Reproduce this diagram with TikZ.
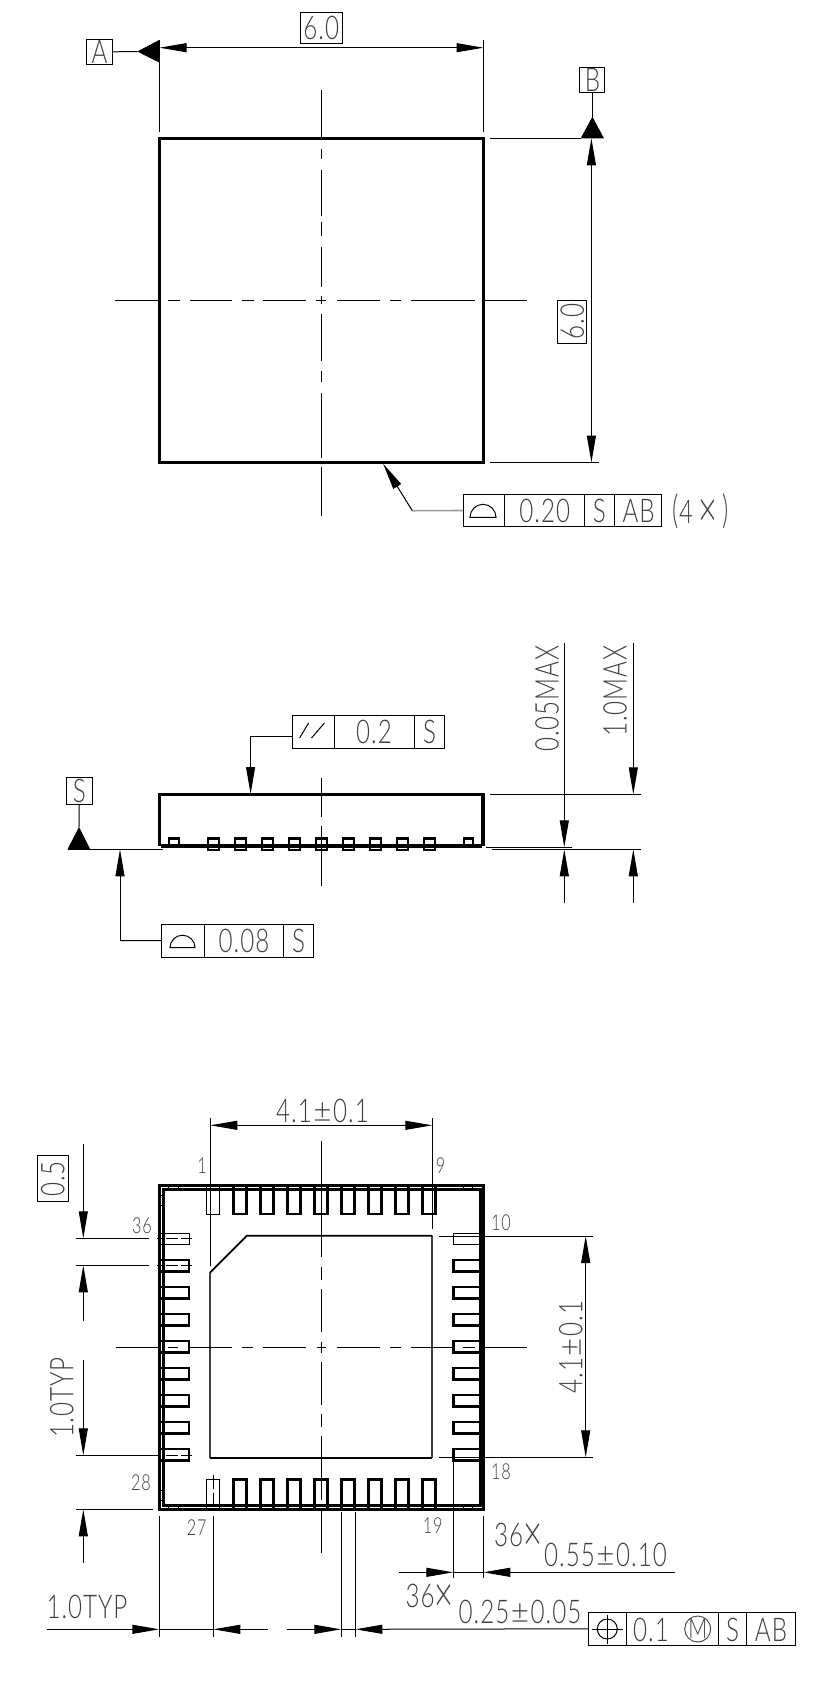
\documentclass[tikz,border=0pt]{standalone}
\usepackage{fontspec}
\usetikzlibrary{arrows.meta}
\newfontfamily\cadfont[FakeStretch=0.74,LetterSpace=3,UprightFont=* Light]{Lato}
\newcommand\plusmark{\kern1.2pt\scalebox{1.3}[1.05]{±}\kern1.2pt}
\newcommand\timesmark{\raisebox{-2.6pt}{\scalebox{1.35}[1.5]{×}}}
\tikzset{
 thinln/.style={line width=0.75pt},
 thickln/.style={line width=2.4pt},
 padln/.style={line width=2.1pt},
 dimhead/.tip={Triangle[length=20.25pt,width=6.75pt]},
 cad/.style={font=\cadfont\fontsize{24.5}{26}\selectfont,text=black!75,inner sep=0pt},
 cadsmall/.style={font=\cadfont\fontsize{16.5}{18}\selectfont,text=black!75,inner sep=0pt},
 framed/.style 2 args={draw,thinln,inner sep=0pt,minimum width=#1*0.75pt,minimum height=#2*0.75pt},
}

\begin{document}
\begin{tikzpicture}[x=0.75pt,y=-0.75pt]
    \useasboundingbox (0,0) rectangle (831,1693);

    % top view
    \draw [thickln] (159.5,138.3) rectangle (483.5,462.5);
    \foreach \a/\b in {89.5/137.3,149.2/159,170/215.8,221.8/235.7,246.7/287.4,296.4/304.3,314.3/361,371/382,392.9/457.5,466.5/516.2}
        \draw [thinln] (321.3,\a) -- (321.3,\b);
    \foreach \a/\b in {115/160,168/180,190/232,242/253.5,263/306,316/326,337/380,390/400.5,411/475,485/527}
        \draw [thinln] (\a,300.4) -- (\b,300.4);
    \draw [thinln] (159.5,39.8) -- (159.5,132);
    \draw [thinln] (483.5,39.8) -- (483.5,132);
    \draw [thinln, dimhead-dimhead] (159.5,47.7) -- (483.5,47.7);
    \node [framed={42}{31}, cad] (topW) at (321.3,28.4) {6.0};
    \node [framed={26}{25.3}, cad] (boxA) at (99.5,52) {A};
    \coordinate (tipA) at (137.3,51.5);
    \draw [thinln] (boxA) -- (tipA);
    \fill (tipA) -- (159.5,39.8) -- (159.5,62.7) -- cycle;
    \node [framed={25}{25}, cad] (boxB) at (592.4,80) {B};
    \coordinate (tipB) at (592.4,116.7);
    \draw [thinln] (boxB) -- (tipB);
    \fill (tipB) -- (580.7,138.3) -- (604,138.3) -- cycle;
    \draw [thinln] (490,138.3) -- (581,138.3);
    \draw [thinln] (490,462.5) -- (598.8,462.5);
    \draw [thinln, dimhead-dimhead] (591.4,138.3) -- (591.4,462.5);
    \node [framed={42.6}{29.4}, cad, rotate=90] (topH) at (572.2,321.7) {6.0};

    \node [framed={198.4}{32.4}] (flatA) at (562.5,510.5) {};
    \draw [thinln] (504.3,494.3) -- (504.3,526.7);
    \draw [thinln] (584.3,494.3) -- (584.3,526.7);
    \draw [thinln] (614.3,494.3) -- (614.3,526.7);
    \draw [thinln] (470,517.3) arc [start angle=180, end angle=360, radius=13] -- cycle;
    \node [cad] (flatAv) at (544.7,510.5) {0.20};
    \node [cad] (flatAs) at (599.3,510.5) {S};
    \node [cad] (flatAd) at (638.7,510.5) {AB};
    \node [cad] (flatAn) at (701,511) {\scalebox{1}[1.2]{(}4\,\timesmark\,\scalebox{1}[1.2]{)}};
    \coordinate (flatAk) at (412.3,510.7);
    \draw [line width=1.2pt, black!40] (flatA.west) -- (flatAk);
    \draw [thinln, -dimhead] (flatAk) -- (383,463.5);

    % side view
    \foreach \x in {213.3,240.3,...,430}
        \draw [line width=1.7pt] (\x-5.5,838.5) rectangle (\x+5.5,849.7);
    \draw [line width=1.7pt] (174-4.8,838.5) rectangle (174+4.8,846);
    \draw [line width=1.7pt] (468.5-4.8,838.5) rectangle (468.5+4.8,846);
    \draw [thickln] (159.5,846) -- (159.5,794.3) -- (483,794.3) -- (483,846);
    \draw [line width=3pt] (161,846.3) -- (482,846.3);
    \foreach \x in {213.3,240.3,...,430}
        \draw [line width=0.6pt, white] (\x-4,848.3) -- (\x+4,848.3);
    \foreach \a/\b in {778/817,826/886}
        \draw [thinln] (321.3,\a) -- (321.3,\b);
    \draw [thinln] (67.5,849.3) -- (163,849.3);
    \draw [thinln] (486,847.3) -- (571.7,847.3);
    \draw [thinln] (492.3,849.3) -- (641,849.3);
    \draw [thinln] (490,794.3) -- (641,794.3);
    \node [framed={26}{27}, cad] (boxS) at (79.4,790.5) {S};
    \coordinate (tipS) at (79,827);
    \draw [thinln] (boxS) -- (tipS);
    \fill (tipS) -- (67.5,849.3) -- (90.3,849.3) -- cycle;

    \node [framed={151.8}{33}] (parl) at (368.6,731.5) {};
    \draw [thinln] (334.4,715) -- (334.4,748);
    \draw [thinln] (414.7,715) -- (414.7,748);
    \draw [thinln] (299.6,738) -- (308.6,723);
    \draw [thinln] (311.5,738) -- (324.4,723);
    \node [cad] (parlv) at (374,732) {0.2};
    \node [cad] (parls) at (429.6,732) {S};
    \coordinate (parlk) at (250.6,736);
    \draw [thinln] (292.7,736) -- (parlk);
    \draw [thinln, -dimhead] (parlk) -- (250.6,794);

    \node [framed={151.8}{33}] (flatB) at (237.6,940.5) {};
    \draw [thinln] (204,924) -- (204,957);
    \draw [thinln] (283.8,924) -- (283.8,957);
    \draw [thinln] (170,947.7) arc [start angle=180, end angle=360, radius=12.5] -- cycle;
    \node [cad] (flatBv) at (244,941) {0.08};
    \node [cad] (flatBs) at (298.6,941) {S};
    \coordinate (flatBk) at (120,940.7);
    \draw [thinln] (flatB.west) -- (flatBk);
    \draw [thinln, -dimhead] (flatBk) -- (120,849.3);

    \draw [thinln, -dimhead] (564.3,643) -- (564.3,847.3);
    \draw [thinln, -dimhead] (564.3,903) -- (564.3,849.3);
    \draw [thinln, -dimhead] (633.3,643) -- (633.3,794.3);
    \draw [thinln, -dimhead] (633.3,903) -- (633.3,849.3);
    \node [cad, rotate=90] (gapmax) at (547,698.5) {0.05MAX};
    \node [cad, rotate=90] (hgtmax) at (615,691) {1.0MAX};

    % bottom view
    \draw [line width=2.2pt] (159.8,1185.7) rectangle (483.3,1509.3);
    \draw [line width=2.2pt] (163.8,1189.8) rectangle (480.3,1505.8);
    \foreach \i in {0,...,8} {
        \pgfmathsetmacro\px{213.3+27*\i}
        \pgfmathsetmacro\py{1238.7+27*\i}
        \ifnum\i=0
            \tikzset{padstyle/.style={thinln}}
        \else
            \tikzset{padstyle/.style={padln}}
        \fi
        \draw [padstyle] (\px-6.5,1186) -- (\px-6.5,1214) -- (\px+6.5,1214) -- (\px+6.5,1186);
        \draw [padstyle] (\px-6.5,1509) -- (\px-6.5,1479.5) -- (\px+6.5,1479.5) -- (\px+6.5,1509);
        \draw [padstyle] (160,\py-5.7) -- (189,\py-5.7) -- (189,\py+5.7) -- (160,\py+5.7);
        \draw [padstyle] (483,\py-5.7) -- (453.7,\py-5.7) -- (453.7,\py+5.7) -- (483,\py+5.7);
    }
    \foreach \x in {168,178,463,472} {
        \draw [thinln] (\x,1186) -- (\x,1190);
        \draw [thinln] (\x,1505) -- (\x,1509);
    }
    \foreach \y in {1195,1205,1490,1500} {
        \draw [thinln] (160,\y) -- (164,\y);
        \draw [thinln] (480,\y) -- (484,\y);
    }
    \draw [line width=1.3pt, black!75] (432.3,1235.7) -- (432.3,1457.7);
    \draw [line width=1.3pt, black!75] (210.3,1457.7) -- (210.3,1272.3);
    \draw [line width=1.3pt] (210.3,1272.3) -- (247,1235.7) -- (432.3,1235.7);
    \draw [line width=1.3pt] (210.3,1457.7) -- (432.3,1457.7);
    \foreach \a/\b in {1141/1257,1266.7/1280,1289/1331.7,1341.7/1353,1361.7/1405,1414/1427,1436/1500,1510.7/1552.7}
        \draw [thinln] (321.3,\a) -- (321.3,\b);
    \foreach \a/\b in {116/160,168/178,190/231.7,241.7/253,263/306,316.7/326,336.7/380,390/400.7,411/452,463/475,485/526.7}
        \draw [thinln] (\a,1347) -- (\b,1347);

    \draw [thinln] (210.3,1118) -- (210.3,1265.7);
    \draw [thinln] (432.3,1118) -- (432.3,1229);
    \draw [thinln, dimhead-dimhead] (210.3,1125.3) -- (432.3,1125.3);
    \node [cad] (padW) at (322.5,1111) {4.1\plusmark0.1};
    \draw [thinln] (439.3,1236) -- (592.7,1236);
    \draw [thinln] (439.3,1457.3) -- (592.7,1457.3);
    \draw [thinln, dimhead-dimhead] (585.7,1236) -- (585.7,1457.3);
    \node [cad, rotate=90] (padH) at (570.7,1347) {4.1\plusmark0.1};

    \node [cadsmall] (pin1) at (202,1166) {1};
    \node [cadsmall] (pin9) at (440.7,1166) {9};
    \node [cadsmall] (pin10) at (501,1223) {10};
    \node [cadsmall] (pin18) at (501,1471.7) {18};
    \node [cadsmall] (pin19) at (432.7,1525.7) {19};
    \node [cadsmall] (pin27) at (196.7,1527.7) {27};
    \node [cadsmall] (pin28) at (141,1482.7) {28};
    \node [cadsmall] (pin36) at (142,1226) {36};

    % pitch dimensions on the left
    \foreach \y in {1238.3,1265.3} {
        \draw [thinln] (76,\y) -- (149,\y);
        \foreach \a/\b in {157/161.5,166/178,181/192}
            \draw [thinln] (\a,\y) -- (\b,\y);
    }
    \draw [thinln] (76,1455.3) -- (160,1455.3);
    \foreach \a/\b in {166/178,181/192}
        \draw [thinln] (\a,1455.3) -- (\b,1455.3);
    \draw [thinln] (76,1509.3) -- (153,1509.3);
    \draw [thinln, -dimhead] (83.3,1144) -- (83.3,1238.3);
    \draw [thinln, -dimhead] (83.3,1320.7) -- (83.3,1265.3);
    \draw [thinln, -dimhead] (83.3,1360) -- (83.3,1455.3);
    \draw [thinln, -dimhead] (83.3,1563) -- (83.3,1509.3);
    \node [framed={45.7}{31}, cad, rotate=90] (pitchH) at (52.8,1178.8) {0.5};
    \node [cad, rotate=90] (typH) at (61.7,1397.5) {1.0TYP};

    % bottom dimensions
    \draw [thinln] (159.3,1516) -- (159.3,1636.7);
    \draw [thinln] (213.3,1516) -- (213.3,1636.7);
    \foreach \a/\b in {1475/1489,1493/1505}
        \draw [thinln] (213.3,\a) -- (213.3,\b);
    \draw [thinln] (341.3,1512.3) -- (341.3,1636.7);
    \draw [thinln] (355.3,1512.3) -- (355.3,1636.7);
    \draw [thinln] (453.3,1457) -- (453.3,1578);
    \draw [thinln] (483.3,1516) -- (483.3,1578);
    \draw [thinln, -dimhead] (47,1629.3) -- (159.3,1629.3);
    \draw [thinln] (159.3,1629.3) -- (213.3,1629.3);
    \draw [thinln, -dimhead] (267.7,1629.3) -- (213.3,1629.3);
    \draw [thinln, -dimhead] (287,1629.3) -- (341.3,1629.3);
    \draw [thinln] (341.3,1629.3) -- (355.3,1629.3);
    \draw [thinln, -dimhead] (399,1572.3) -- (453.3,1572.3);
    \draw [thinln] (453.3,1572.3) -- (483.3,1572.3);
    \draw [thinln, -dimhead] (675,1572.3) -- (483.3,1572.3);
    \node [cad] (typW) at (87,1607.3) {1.0TYP};
    \node [cad] (cnt55) at (518,1536.7) {36\timesmark};
    \node [cad] (val55) at (605.5,1555) {0.55\plusmark0.10};
    \node [cad] (cnt25) at (429.5,1598) {36\timesmark};
    \node [cad] (val25) at (520,1612) {0.25\plusmark0.05};

    \node [framed={207.4}{33}] (posn) at (692,1628.8) {};
    \draw [thinln, -dimhead] (posn.west) -- (355.3,1629.3);
    \draw [thinln] (626.7,1612.3) -- (626.7,1645.3);
    \draw [thinln] (718.3,1612.3) -- (718.3,1645.3);
    \draw [thinln] (746.7,1612.3) -- (746.7,1645.3);
    \draw [thinln] (607.3,1629) circle [radius=10];
    \draw [thinln] (592.3,1629) -- (622.7,1629);
    \draw [thinln] (607.3,1615) -- (607.3,1643.5);
    \node [cad] (posnv) at (651,1630) {0.1};
    \draw [thinln, black!70] (697.7,1629) circle [radius=13];
    \node [cad, font=\cadfont\fontsize{21}{23}\selectfont] (posnm) at (697.7,1629) {M};
    \node [cad] (posns) at (732.5,1630) {S};
    \node [cad] (posnd) at (771,1630) {AB};
\end{tikzpicture}
\end{document}
